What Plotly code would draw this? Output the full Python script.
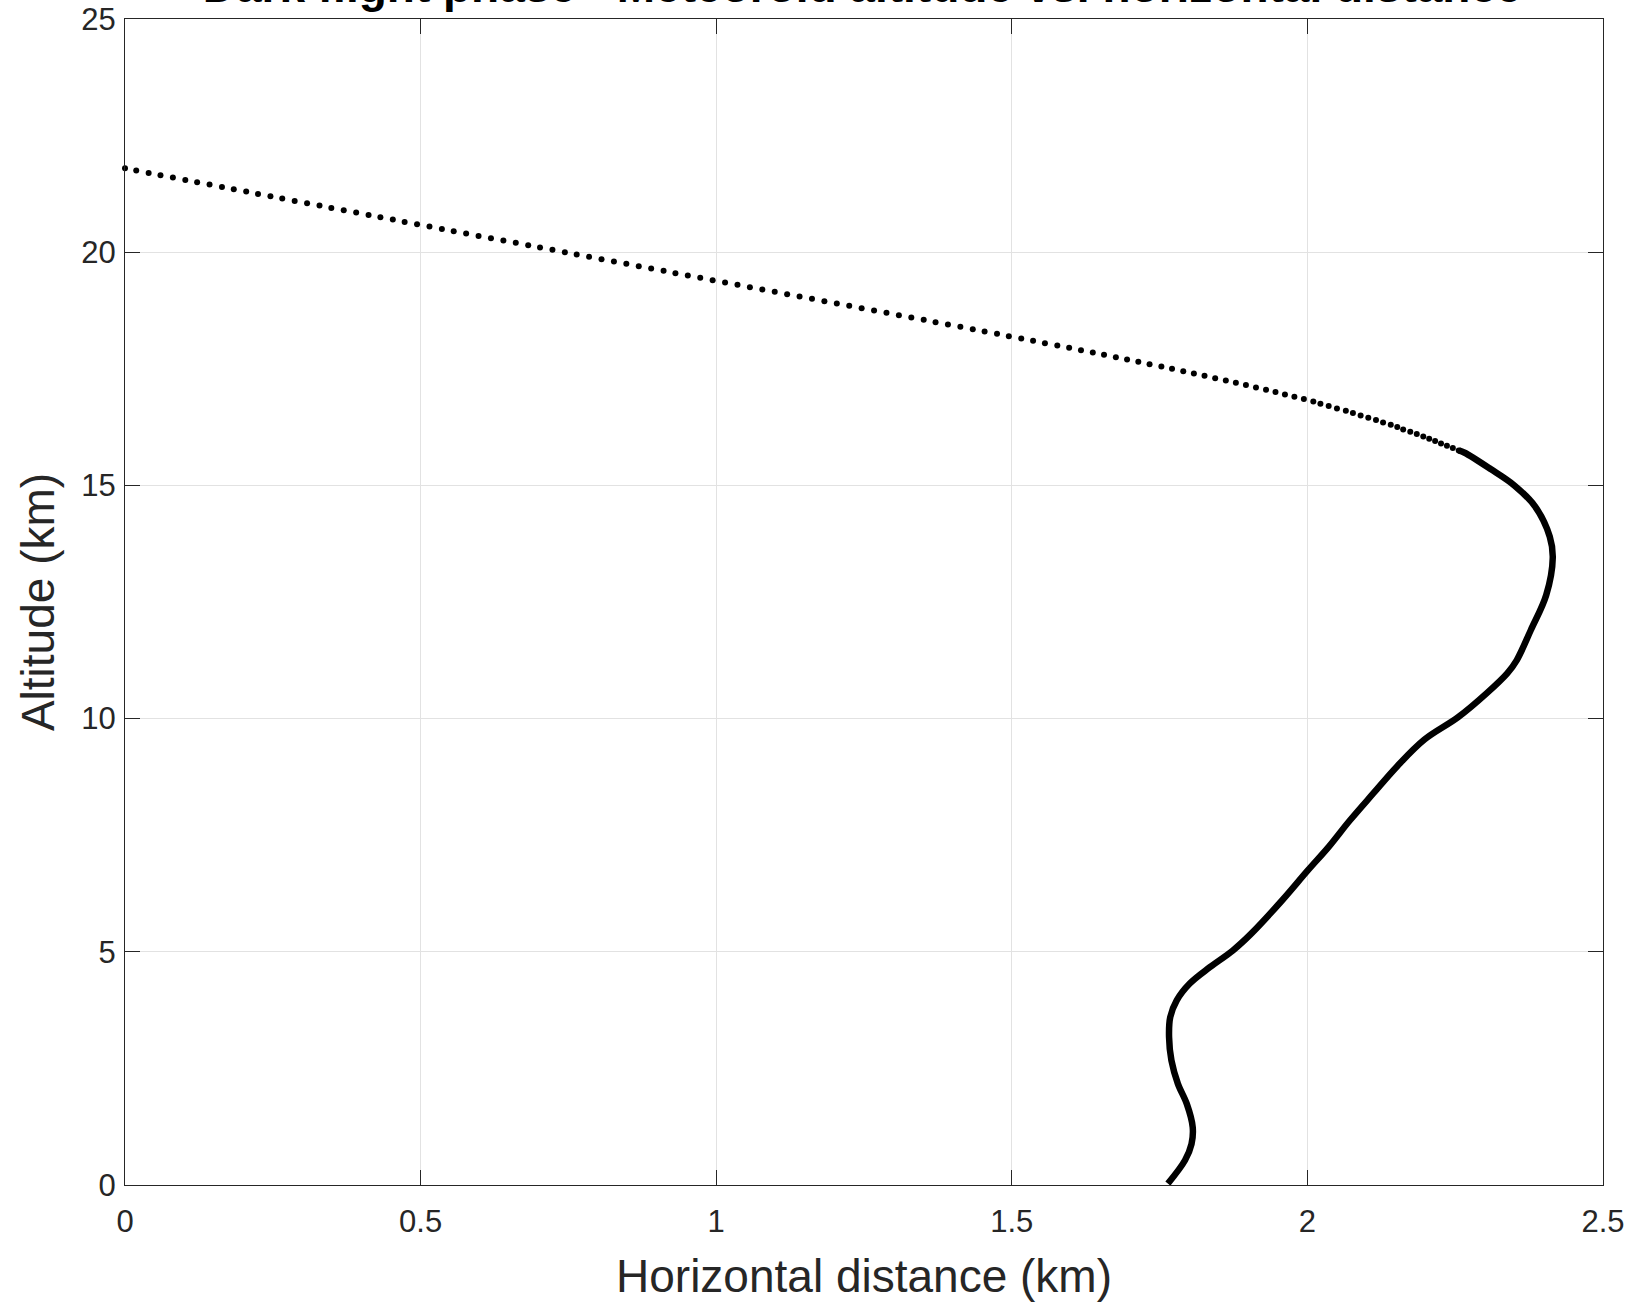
import plotly.graph_objects as go

# ---- data (km) ----
# individually visible samples of the upper (fast, horizontal) part of the trajectory
dot_x_km = [
    0.000, 0.019, 0.040, 0.060, 0.081, 0.102, 0.122, 0.143, 0.164, 0.184,
    0.205, 0.225, 0.246, 0.266, 0.287, 0.308, 0.329, 0.349, 0.370, 0.391,
    0.412, 0.432, 0.453, 0.473, 0.494, 0.515, 0.536, 0.556, 0.577, 0.598,
    0.619, 0.640, 0.661, 0.682, 0.702, 0.723, 0.744, 0.764, 0.785, 0.806,
    0.827, 0.848, 0.869, 0.890, 0.911, 0.931, 0.952, 0.973, 0.994, 1.015,
    1.036, 1.057, 1.078, 1.099, 1.120, 1.141, 1.162, 1.183, 1.204, 1.225,
    1.246, 1.267, 1.288, 1.309, 1.330, 1.351, 1.371, 1.392, 1.413, 1.434,
    1.454, 1.475, 1.495, 1.516, 1.536, 1.556, 1.577, 1.597, 1.617, 1.637,
    1.656, 1.676, 1.695, 1.714, 1.733, 1.753, 1.771, 1.790, 1.808, 1.826,
    1.844, 1.862, 1.879, 1.896, 1.913, 1.930, 1.946, 1.962, 1.978, 1.994,
    2.010, 2.022, 2.036, 2.050, 2.065, 2.077, 2.090, 2.103, 2.116, 2.128,
    2.141, 2.152, 2.162, 2.174, 2.185, 2.196, 2.206, 2.216, 2.226, 2.236,
    2.246, 2.256,
]
dot_alt_km = [
    21.80, 21.75, 21.70, 21.65, 21.60, 21.55, 21.50, 21.45, 21.40, 21.35,
    21.30, 21.25, 21.20, 21.15, 21.10, 21.05, 21.00, 20.95, 20.90, 20.85,
    20.80, 20.75, 20.70, 20.65, 20.60, 20.55, 20.50, 20.45, 20.40, 20.35,
    20.30, 20.25, 20.20, 20.15, 20.10, 20.05, 20.00, 19.95, 19.90, 19.85,
    19.80, 19.75, 19.70, 19.65, 19.60, 19.55, 19.50, 19.45, 19.40, 19.35,
    19.30, 19.25, 19.20, 19.15, 19.10, 19.05, 19.00, 18.95, 18.90, 18.85,
    18.80, 18.75, 18.70, 18.65, 18.60, 18.55, 18.50, 18.45, 18.40, 18.35,
    18.30, 18.25, 18.20, 18.15, 18.10, 18.05, 18.00, 17.95, 17.90, 17.85,
    17.80, 17.75, 17.70, 17.65, 17.60, 17.55, 17.50, 17.45, 17.40, 17.35,
    17.30, 17.25, 17.20, 17.15, 17.10, 17.05, 17.00, 16.95, 16.90, 16.85,
    16.80, 16.75, 16.70, 16.65, 16.60, 16.55, 16.50, 16.45, 16.40, 16.35,
    16.30, 16.25, 16.20, 16.15, 16.10, 16.05, 16.00, 15.95, 15.90, 15.85,
    15.80, 15.75,
]

# lower part where the samples merge into a continuous thick line
curve_x_km = [
    2.256, 2.266, 2.310, 2.350, 2.385, 2.410, 2.415, 2.404, 2.378,
    2.354, 2.338, 2.303, 2.255, 2.198, 2.152, 2.111, 2.072, 2.036, 2.001,
    1.957, 1.905, 1.874, 1.835, 1.801, 1.779, 1.768, 1.766, 1.770, 1.781,
    1.796, 1.806, 1.804, 1.793, 1.764,
]
curve_alt_km = [
    15.75, 15.70, 15.35, 15.00, 14.55, 13.90, 13.45, 12.65, 11.90,
    11.25, 10.97, 10.54, 10.03, 9.55, 8.98, 8.39, 7.82, 7.25, 6.75,
    6.10, 5.39, 5.03, 4.67, 4.32, 3.96, 3.60, 3.17, 2.67, 2.17,
    1.74, 1.24, 0.88, 0.53, 0.03,
]

x_tick_vals = [0, 0.5, 1, 1.5, 2, 2.5]
x_tick_text = ["0", "0.5", "1", "1.5", "2", "2.5"]
y_tick_vals = [0, 5, 10, 15, 20, 25]
y_tick_text = ["0", "5", "10", "15", "20", "25"]

title_text = "Dark flight phase - Meteoroid altitude vs. horizontal distance"
x_title = "Horizontal distance (km)"
y_title = "Altitude (km)"

FONT = "Liberation Sans, Arial, Helvetica, sans-serif"
AX = "#262626"
GRID = "#e2e2e2"

fig = go.Figure()
fig.add_trace(go.Scatter(
    x=curve_x_km, y=curve_alt_km, mode="lines",
    line=dict(color="black", width=6.5, shape="spline", smoothing=1.0),
    hoverinfo="skip", showlegend=False,
))
fig.add_trace(go.Scatter(
    x=dot_x_km, y=dot_alt_km, mode="markers",
    marker=dict(color="black", size=6, line=dict(width=0)),
    cliponaxis=False, showlegend=False,
))

fig.update_layout(
    width=1636, height=1303, autosize=False,
    margin=dict(l=125, r=33, t=19, b=118, pad=0),
    paper_bgcolor="white", plot_bgcolor="white",
    font=dict(family=FONT, color=AX),
    title=dict(
        text="<b>" + title_text + "</b>",
        x=0.527, xanchor="center",
        yref="container", y=1 - 1.5 / 1303, yanchor="bottom",
        font=dict(family=FONT, size=46, color="black"),
    ),
)

fig.update_xaxes(
    range=[0, 2.5], tickmode="array", tickvals=x_tick_vals, ticktext=x_tick_text,
    ticks="inside", ticklen=15, tickwidth=1, tickcolor=AX,
    showline=True, linecolor=AX, linewidth=1.3, mirror="ticks",
    showgrid=True, gridcolor=GRID, gridwidth=1, zeroline=False, automargin=False,
    tickfont=dict(family=FONT, size=31, color=AX), ticklabelstandoff=9,
    title=dict(text=x_title, font=dict(family=FONT, size=46, color=AX), standoff=21),
)
fig.update_yaxes(
    range=[0, 25], tickmode="array", tickvals=y_tick_vals, ticktext=y_tick_text,
    ticks="inside", ticklen=15, tickwidth=1, tickcolor=AX,
    showline=True, linecolor=AX, linewidth=1.3, mirror="ticks",
    showgrid=True, gridcolor=GRID, gridwidth=1, zeroline=False, automargin=False,
    tickfont=dict(family=FONT, size=31, color=AX), ticklabelstandoff=2,
    title=dict(text=y_title, font=dict(family=FONT, size=46, color=AX), standoff=12),
)

fig.write_html(
    "out.html",
    config={"displayModeBar": False},
    post_script="document.body.style.margin='0';",
)
